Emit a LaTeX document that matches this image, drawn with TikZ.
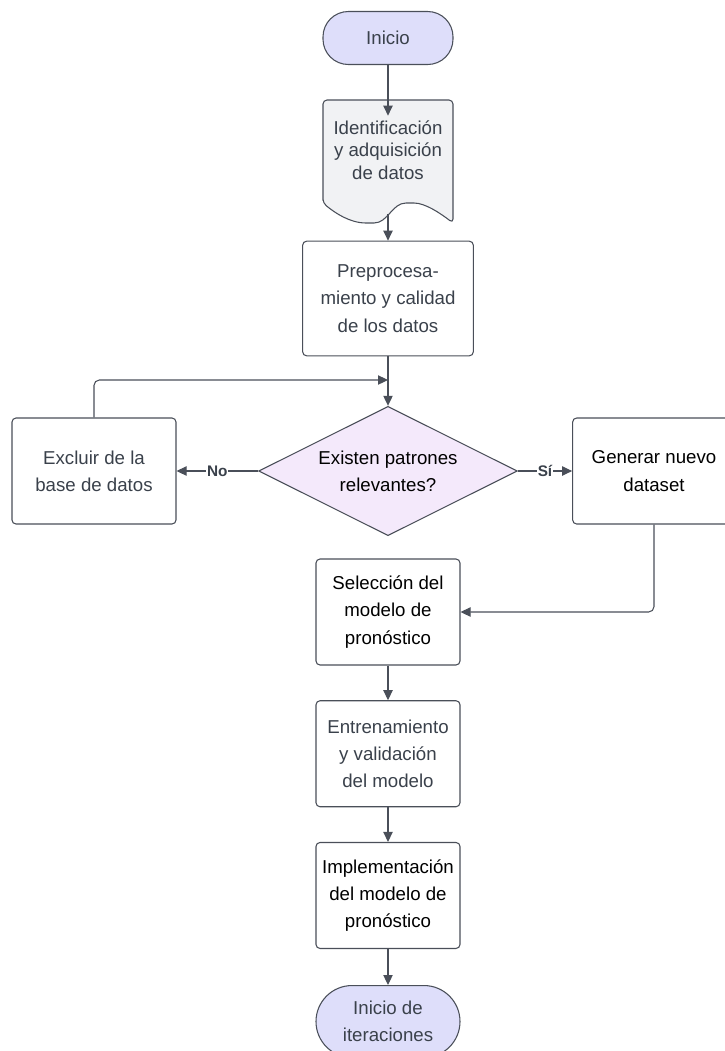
\documentclass[tikz,border=0pt]{standalone}
\usepackage{fontspec}
\setmainfont{Liberation Sans}
\usetikzlibrary{arrows.meta,positioning,shapes.geometric}
\usepackage{xcolor}
\definecolor{cline}{HTML}{4A4F59}
\definecolor{ctext}{HTML}{3A414B}
\definecolor{cterm}{HTML}{DEDEFA}
\definecolor{cdeci}{HTML}{F4E9FB}
\definecolor{cdoc}{HTML}{F1F2F4}

\begin{document}
\begin{tikzpicture}[x=0.75pt, y=-0.75pt,
  box/.style={draw=cline, line width=0.8pt, rounded corners=3pt, fill=white,
              text=ctext, align=center, inner sep=2pt,
              minimum width=108pt, minimum height=79.5pt,
              font=\fontsize{14}{20.5}\selectfont},
  term/.style={box, fill=cterm, rounded corners=19pt, minimum height=39.75pt},
  deci/.style={diamond, draw=cline, line width=0.8pt, fill=cdeci, aspect=2,
               inner sep=0pt, minimum width=194pt, minimum height=97pt,
               text=black, align=center, font=\fontsize{14}{20.5}\selectfont},
  flow/.style={draw=cline, line width=0.8pt, -{Triangle[width=7pt, length=7.5pt]}},
  lbl/.style={fill=white, inner sep=0.5pt, text=ctext,
              font=\fontsize{11.5}{13}\selectfont\bfseries}
]
  \useasboundingbox (0,0) rectangle (725,1051);

  % top part
  \node[term, minimum width=97.5pt] (ini) at (388,38) {Inicio};

  \filldraw[fill=cdoc, draw=cline, line width=0.8pt, rounded corners=3pt]
    (323,203) -- (323,100) -- (453,100) -- (453,223)
    .. controls (440,213) and (425,203) .. (410,203)
    .. controls (392,203) and (388,223) .. (370,223)
    .. controls (350,223) and (335,213) .. (323,203) -- cycle;
  \node[align=center, text=ctext, minimum width=97.5pt,
        font=\fontsize{14}{17}\selectfont] (doc) at (388,150)
    {Identificación\\y adquisición\\de datos};
  \coordinate (docb) at (388,214);

  \node[box, minimum width=128pt, minimum height=86pt] (prep) at (388,298.5)
    {Preprocesa-\\miento y calidad\\de los datos};

  % decision row
  \node[deci] (dec) at (388,471) {Existen patrones\\relevantes?};
  \node[box, minimum width=123pt] (excl) at (94,471) {Excluir de la\\base de datos};
  \node[box, text=black, minimum width=122pt] (gen) at (654,471) {Generar nuevo\\dataset};
  \coordinate (merge) at (388,380);

  % model part
  \node[box, text=black] (sel) at (388,612) {Selección del\\modelo de\\pronóstico};
  \node[box, below=26pt of sel] (ent) {Entrenamiento\\y validación\\del modelo};
  \node[box, text=black, below=26pt of ent] (impl) {Implementación\\del modelo de\\pronóstico};
  \node[term, minimum height=54pt, rounded corners=27pt, below=27pt of impl] (fin)
    {Inicio de\\iteraciones};

  \draw[flow] (ini) -- (doc.north);
  \draw[flow] (docb) -- (prep);
  \draw[flow] (prep) -- (dec);
  \draw[flow] (dec) -- node[lbl] {No} (excl);
  \draw[flow] (dec) -- node[lbl] {Sí} (gen);
  \draw[flow, rounded corners=4pt] (excl.north) |- (merge);
  \draw[flow, rounded corners=4pt] (gen.south) |- (sel.east);
  \draw[flow] (sel) -- (ent);
  \draw[flow] (ent) -- (impl);
  \draw[flow] (impl) -- (fin);
\end{tikzpicture}
\end{document}
